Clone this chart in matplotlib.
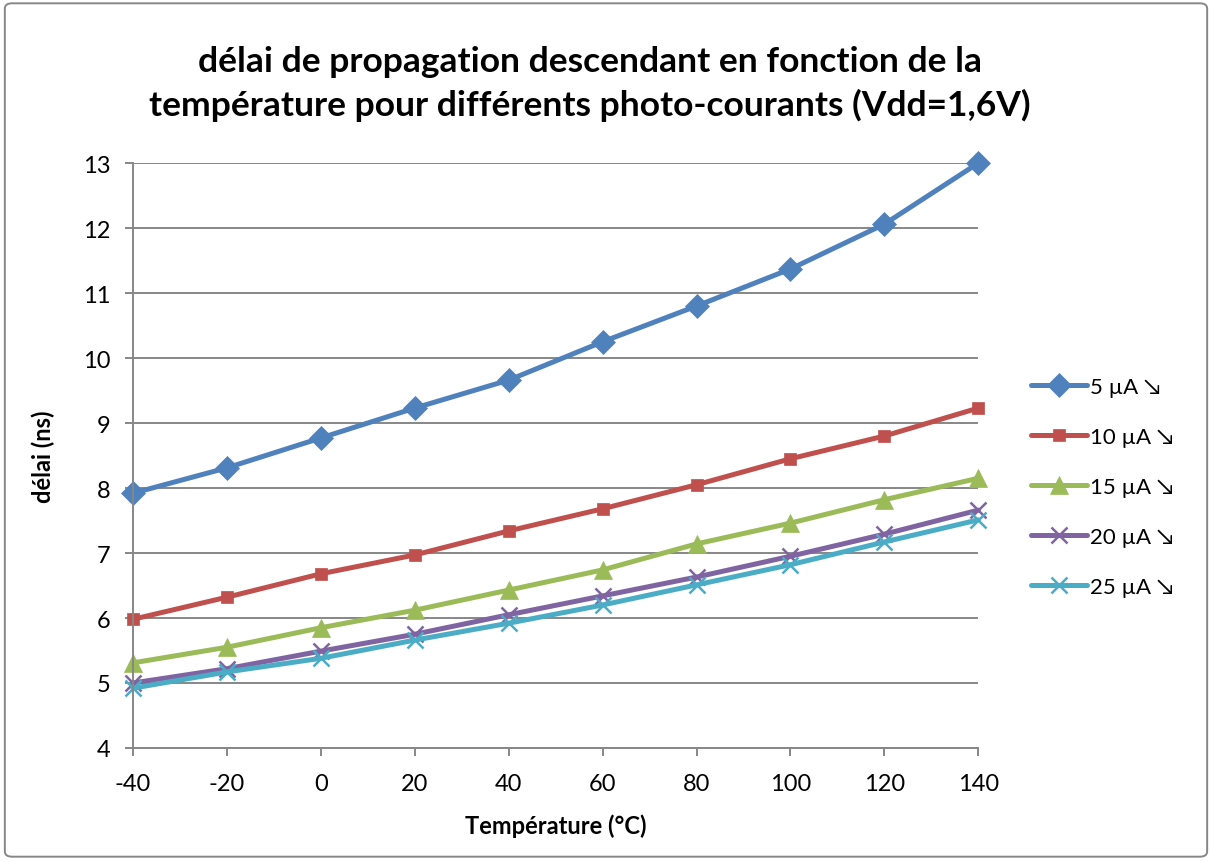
import matplotlib.pyplot as plt
from matplotlib.patches import FancyBboxPatch

temperature = [-40, -20, 0, 20, 40, 60, 80, 100, 120, 140]

# délai de propagation (ns) pour chaque photo-courant
delai_5uA = [7.92, 8.31, 8.77, 9.23, 9.66, 10.25, 10.80, 11.37, 12.06, 13.00]
delai_10uA = [5.98, 6.32, 6.68, 6.97, 7.34, 7.68, 8.05, 8.45, 8.80, 9.23]
delai_15uA = [5.31, 5.55, 5.85, 6.12, 6.43, 6.74, 7.14, 7.46, 7.82, 8.15]
delai_20uA = [5.00, 5.22, 5.49, 5.75, 6.05, 6.34, 6.63, 6.95, 7.29, 7.66]
delai_25uA = [4.92, 5.17, 5.38, 5.66, 5.92, 6.20, 6.51, 6.82, 7.17, 7.51]

labels = ['5 µA ↘', '10 µA ↘', '15 µA ↘', '20 µA ↘', '25 µA ↘']
series = [delai_5uA, delai_10uA, delai_15uA, delai_20uA, delai_25uA]
colors = ['#4f81bd', '#c0504d', '#9bbb59', '#8064a2', '#4bacc6']
markers = ['D', 's', '^', 'x', 'x']
msizes = [12, 9, 13, 12, 12]

plt.rcParams['font.family'] = ['Lato', 'DejaVu Sans']
plt.rcParams['axes.unicode_minus'] = False

fig = plt.figure(figsize=(12.12, 8.62), dpi=100)
ax = fig.add_axes([0.1097, 0.1311, 0.6975, 0.6786])

for y, lab, c, m, ms in zip(series, labels, colors, markers, msizes):
    ax.plot(temperature, y, color=c, lw=3.6, marker=m, markersize=ms,
            markeredgewidth=1.8 if m == 'x' else 0.5, markeredgecolor=c,
            label=lab, solid_capstyle='round', clip_on=False)

ax.set_xlim(-40, 140)
ax.set_ylim(4, 13)
ax.set_xticks(temperature)
ax.set_yticks(range(4, 14))
ax.yaxis.grid(True, color='#878787', lw=1.4)
ax.set_axisbelow(True)
for s in ['top', 'right']:
    ax.spines[s].set_visible(False)
for s in ['left', 'bottom']:
    ax.spines[s].set_color('#878787')
    ax.spines[s].set_linewidth(1.4)
ax.tick_params(axis='both', direction='out', length=6, width=1.4, color='#878787',
               labelsize=17)
ax.tick_params(axis='x', pad=12)
ax.tick_params(axis='y', pad=10)

ax.set_xlabel('Température (°C)', fontsize=17, fontweight='bold', labelpad=14)
ax.set_ylabel('délai (ns)', fontsize=17, fontweight='bold', labelpad=20)

fig.text(0.487, 0.902, 'délai de propagation descendant en fonction de la\n'
         'température pour différents photo-courants (Vdd=1,6V)',
         ha='center', va='center', fontsize=25.5, fontweight='bold', linespacing=1.4)

ax.legend(loc='center left', bbox_to_anchor=(1.052, 0.446), frameon=False,
          borderaxespad=0, fontsize=16, handlelength=2.5, handletextpad=0.15,
          labelspacing=1.35)

# cadre gris autour du graphique
fig.patches.append(FancyBboxPatch((0.004, 0.005), 0.992, 0.99,
                                  boxstyle='round,pad=0,rounding_size=0.006',
                                  transform=fig.transFigure, fill=False,
                                  edgecolor='#878787', lw=1.4))

fig.savefig('out.png', dpi=100)
